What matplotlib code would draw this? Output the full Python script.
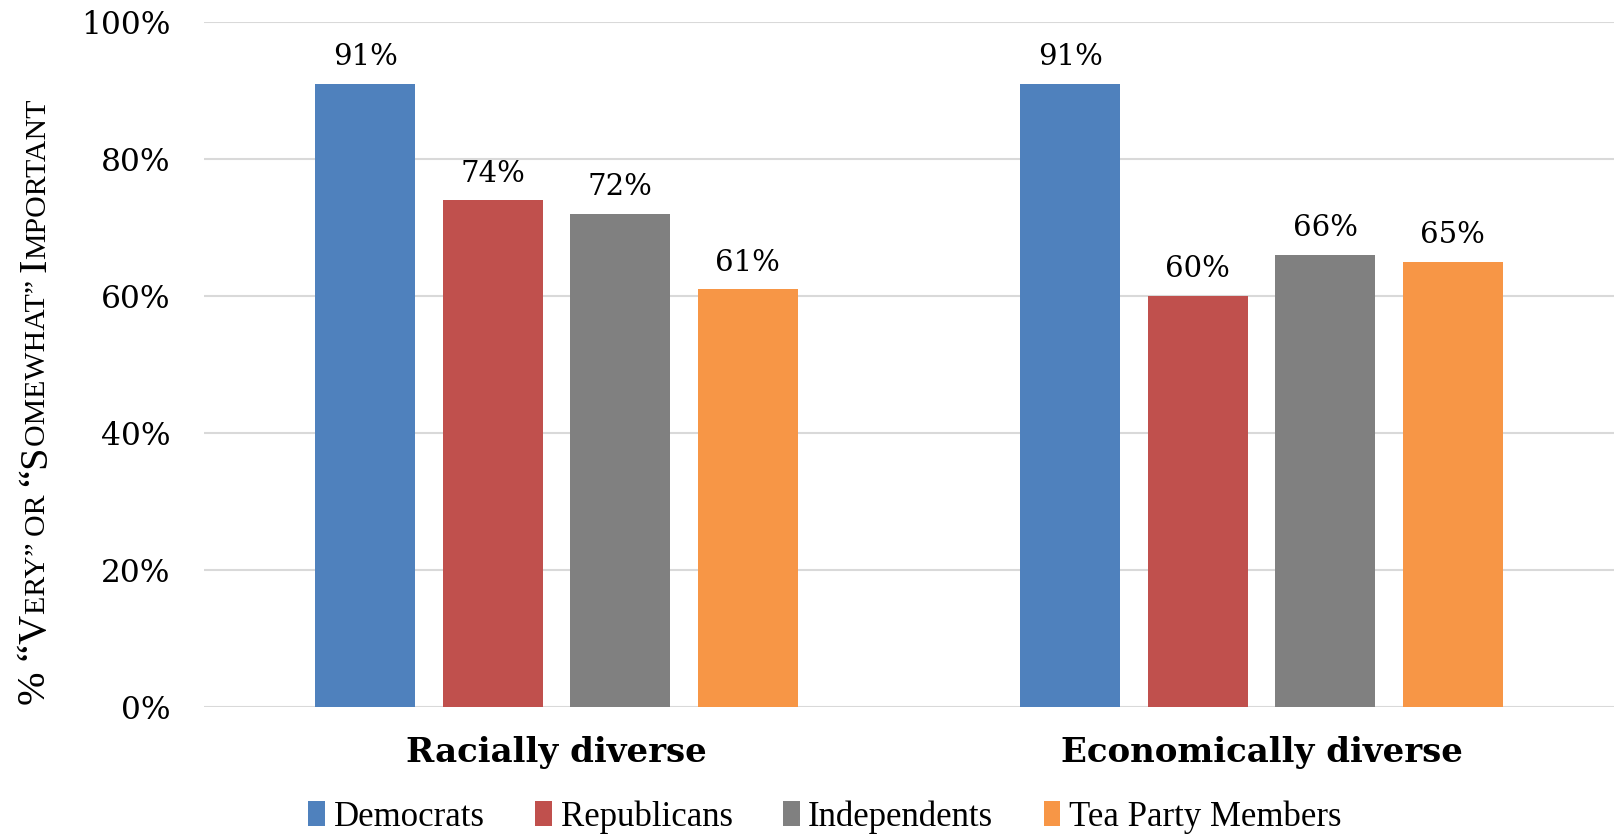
import numpy as np
import matplotlib
matplotlib.use("Agg")
import matplotlib.pyplot as plt

categories = ["Racially diverse", "Economically diverse"]
groups = ["Democrats", "Republicans", "Independents", "Tea Party Members"]
democrats = [91, 91]
republicans = [74, 60]
independents = [72, 66]
tea_party = [61, 65]
yticks = [0, 20, 40, 60, 80, 100]

colors = ["#4F81BD", "#C0504D", "#808080", "#F79646"]
series = [democrats, republicans, independents, tea_party]

fig = plt.figure(figsize=(16.17, 8.34), dpi=100)
ax = fig.add_axes([204 / 1617, 1 - 707 / 834, 1410 / 1617, 685 / 834])

x = np.arange(len(categories))
pitch = 0.181
width = 0.142
for i, (name, vals, col) in enumerate(zip(groups, series, colors)):
    pos = x + (i - 1.5) * pitch
    bars = ax.bar(pos, vals, width, color=col, label=name, zorder=2)
    for b, v in zip(bars, vals):
        ax.annotate(f"{v}%", (b.get_x() + b.get_width() / 2, v),
                    xytext=(0, 9), textcoords="offset points",
                    ha="center", va="bottom", fontsize=21,
                    family="DejaVu Serif")

ax.set_xlim(-0.5, 1.5)
ax.set_ylim(0, 100)
ax.set_yticks(yticks)
ax.set_yticklabels([f"{t}%" for t in yticks], family="DejaVu Serif", fontsize=22.5)
ax.set_xticks(x)
ax.set_xticklabels(categories, family="DejaVu Serif", fontweight="bold", fontsize=24.5)
ax.tick_params(axis="y", length=0, pad=24)
ax.tick_params(axis="x", length=0, pad=21)
ax.grid(axis="y", color="#d9d9d9", linewidth=1.5, zorder=0)
for s in ax.spines.values():
    s.set_visible(False)

fig.legend(loc="center", bbox_to_anchor=(825 / 1617, 1 - 817 / 834), ncol=4,
           frameon=False, handlelength=0.48, handleheight=0.75, handletextpad=0.25,
           columnspacing=1.45, prop={"family": "Liberation Serif", "size": 25})

# y label in small caps, built from pieces
pieces = [("% \u201c", 29), ("V", 29), ("ERY\u201d ", 21.5), ("OR ", 21.5), ("\u201c", 29),
          ("S", 29), ("OMEWHAT\u201d ", 21.5), ("I", 29), ("MPORTANT", 21.5)]
fig.canvas.draw()
r = fig.canvas.get_renderer()
texts = []
for s, size in pieces:
    t = fig.text(0, 0, s, rotation=90, rotation_mode="anchor", ha="left",
                 va="baseline", fontsize=size, family="Liberation Serif")
    texts.append(t)
lengths = [t.get_window_extent(r).height for t in texts]
total = sum(lengths)
y0 = 834 - 402 - total / 2
base_x = 45
ypos = y0
for t, L in zip(texts, lengths):
    t.set_position((base_x / 1617, ypos / 834))
    ypos += L

fig.savefig("out.png", dpi=100)
